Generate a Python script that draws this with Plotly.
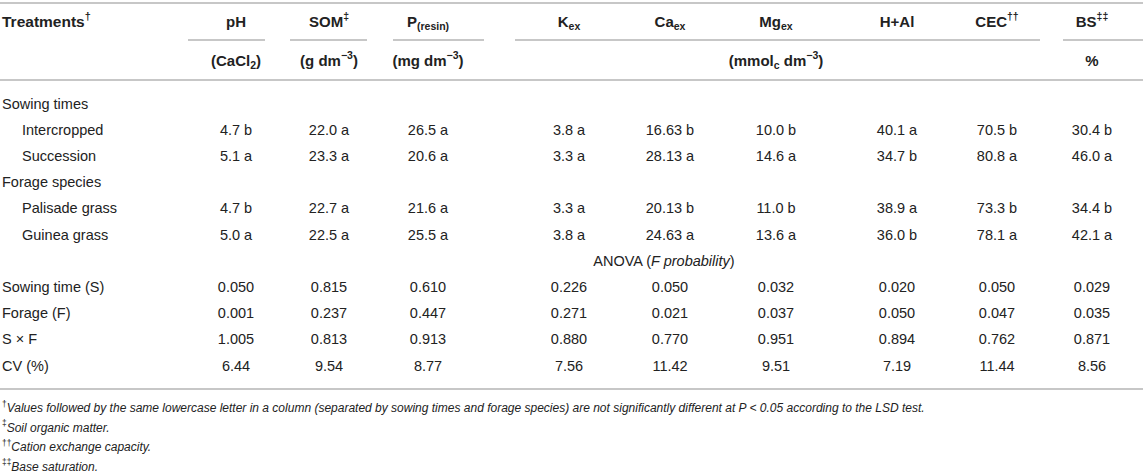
import plotly.graph_objects as go

# Table content
columns = ["pH", "SOM<sup>‡</sup>", "P<sub>(resin)</sub>", "K<sub>ex</sub>", "Ca<sub>ex</sub>",
           "Mg<sub>ex</sub>", "H+Al", "CEC<sup>††</sup>", "BS<sup>‡‡</sup>"]
units = ["(CaCl<sub>2</sub>)", "(g dm<sup>−3</sup>)", "(mg dm<sup>−3</sup>)", "", "",
         "(mmol<sub>c</sub> dm<sup>−3</sup>)", "", "", "%"]

treatments = ["Intercropped", "Succession", "Palisade grass", "Guinea grass"]
groups = ["Sowing times", "Forage species"]

ph = ["4.7 b", "5.1 a", "4.7 b", "5.0 a"]
som = ["22.0 a", "23.3 a", "22.7 a", "22.5 a"]
p_resin = ["26.5 a", "20.6 a", "21.6 a", "25.5 a"]
k_ex = ["3.8 a", "3.3 a", "3.3 a", "3.8 a"]
ca_ex = ["16.63 b", "28.13 a", "20.13 b", "24.63 a"]
mg_ex = ["10.0 b", "14.6 a", "11.0 b", "13.6 a"]
h_al = ["40.1 a", "34.7 b", "38.9 a", "36.0 b"]
cec = ["70.5 b", "80.8 a", "73.3 b", "78.1 a"]
bs = ["30.4 b", "46.0 a", "34.4 b", "42.1 a"]

anova_labels = ["Sowing time (S)", "Forage (F)", "S × F", "CV (%)"]
p_sowing = ["0.050", "0.815", "0.610", "0.226", "0.050", "0.032", "0.020", "0.050", "0.029"]
p_forage = ["0.001", "0.237", "0.447", "0.271", "0.021", "0.037", "0.050", "0.047", "0.035"]
p_interaction = ["1.005", "0.813", "0.913", "0.880", "0.770", "0.951", "0.894", "0.762", "0.871"]
cv = ["6.44", "9.54", "8.77", "7.56", "11.42", "9.51", "7.19", "11.44", "8.56"]

footnotes = [
    "<sup>†</sup><i>Values followed by the same lowercase letter in a column (separated by sowing times and forage species) are not significantly different at P < 0.05 according to the LSD test.</i>",
    "<sup>‡</sup><i>Soil organic matter.</i>",
    "<sup>††</sup><i>Cation exchange capacity.</i>",
    "<sup>‡‡</sup><i>Base saturation.</i>",
]

# layout helpers (pixel coordinates)
col_x = [236, 329, 428, 569, 670, 776, 897, 997, 1092]
row_y0, row_step = 105, 26.2
LEFT, INDENT = 2, 22
FONT = "Liberation Sans, Arial, sans-serif"
TXT = "#222222"
LINE = "#b4b4b4"

def ry(i):
    return row_y0 + row_step * i

fig = go.Figure()

def add_text(xs, ys, texts, pos="middle center", size=14.5, color=TXT):
    fig.add_trace(go.Scatter(x=xs, y=ys, text=texts, mode="text", textposition=pos,
                             textfont=dict(family=FONT, size=size, color=color),
                             hoverinfo="skip", showlegend=False))

# header
add_text([LEFT], [23], ["<b>Treatments<sup>†</sup></b>"], pos="middle right", size=15.5)
add_text(col_x, [23] * 9, ["<b>" + c + "</b>" for c in columns], size=15)
unit_x = col_x[:3] + [col_x[5], col_x[8]]
unit_t = [u for u in units if u]
add_text(unit_x, [62] * len(unit_t), ["<b>" + u + "</b>" for u in unit_t], size=15)

# body rows
means = [ph, som, p_resin, k_ex, ca_ex, mg_ex, h_al, cec, bs]
add_text([LEFT, LEFT], [ry(0), ry(3)], groups, pos="middle right")
trt_rows = [1, 2, 4, 5]
add_text([INDENT] * 4, [ry(r) for r in trt_rows], treatments, pos="middle right")
for j, col in enumerate(means):
    add_text([col_x[j]] * 4, [ry(r) for r in trt_rows], col)

add_text([664], [ry(6)], ["ANOVA (<i>F probability</i>)"])
anova_rows = [p_sowing, p_forage, p_interaction, cv]
add_text([LEFT] * 4, [ry(7 + i) for i in range(4)], anova_labels, pos="middle right")
for i, vals in enumerate(anova_rows):
    add_text(col_x, [ry(7 + i)] * 9, vals)

# footnotes
add_text([LEFT] * 4, [409 + 19.5 * i for i in range(4)], footnotes, pos="middle right", size=12)

# rules
for y in [3, 80, 389]:
    fig.add_shape(type="line", x0=0, x1=1143, y0=y, y1=y, line=dict(color=LINE, width=1.6))
for a, b in [(188, 265), (290, 367), (393, 484), (515, 1040), (1063, 1143)]:
    fig.add_shape(type="line", x0=a, x1=b, y0=40, y1=40, line=dict(color=LINE, width=1.6))

fig.update_layout(
    width=1143, height=476, autosize=False,
    margin=dict(l=0, r=0, t=0, b=0),
    paper_bgcolor="white", plot_bgcolor="white",
    xaxis=dict(range=[0, 1143], visible=False, fixedrange=True),
    yaxis=dict(range=[476, 0], visible=False, fixedrange=True),
)

fig.write_html("out.html", config={"displayModeBar": False},
               post_script="document.body.style.margin='0';document.body.style.overflow='hidden';")
